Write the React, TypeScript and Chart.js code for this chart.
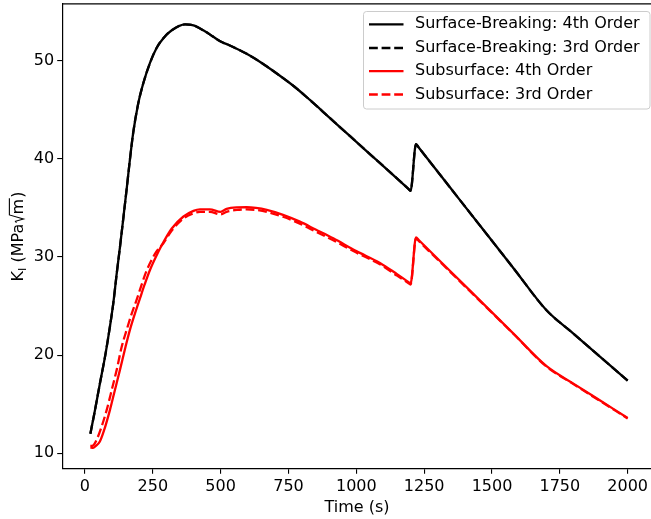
import { useEffect, useRef } from 'react';
import { Chart, registerables } from 'chart.js';

Chart.register(...registerables);

// ---- data ----
const sb4Time = [20, 35, 55, 75, 92, 105, 117, 129, 142, 154, 166, 178, 196, 215, 240, 264, 289, 320, 369, 400, 436, 470, 500, 530, 596, 650, 707, 770, 829, 900, 977, 1050, 1120, 1190, 1200, 1220, 1230, 1345, 1460, 1580, 1700, 1800, 1900, 2000];
const sb4K = [12.0, 14.1, 17.1, 20.0, 22.9, 25.4, 28.3, 31.0, 34.1, 37.0, 40.0, 42.7, 45.6, 47.7, 49.8, 51.3, 52.3, 53.1, 53.7, 53.6, 53.1, 52.5, 51.95, 51.6, 50.7, 49.8, 48.7, 47.4, 46.0, 44.23, 42.31, 40.49, 38.75, 37.0, 36.75, 41.5, 41.15, 37.1, 33.05, 28.83, 24.6, 22.2, 19.8, 17.4];

const sb3Time = [20, 35, 55, 75, 92, 105, 117, 129, 142, 154, 166, 178, 196, 215, 240, 264, 289, 320, 369, 400, 436, 470, 500, 530, 596, 650, 707, 770, 829, 900, 977, 1050, 1120, 1190, 1200, 1220, 1230, 1345, 1460, 1580, 1700, 1800, 1900, 2000];
const sb3K = [12.0, 14.1, 17.1, 20.0, 22.9, 25.4, 28.3, 31.0, 34.1, 37.0, 40.0, 42.7, 45.6, 47.7, 49.8, 51.3, 52.3, 53.1, 53.7, 53.6, 53.1, 52.5, 51.95, 51.6, 50.7, 49.8, 48.7, 47.4, 46.0, 44.23, 42.31, 40.49, 38.75, 37.0, 36.75, 41.5, 41.15, 37.1, 33.05, 28.83, 24.6, 22.2, 19.8, 17.4];

const sub4Time = [20, 30, 40, 55, 70, 92, 110, 129, 150, 166, 185, 203, 220, 240, 270, 289, 320, 362, 400, 424, 460, 500, 522, 560, 596, 630, 670, 730, 792, 850, 915, 1000, 1087, 1150, 1190, 1200, 1220, 1230, 1340, 1460, 1580, 1700, 1800, 1900, 2000];
const sub4K = [10.6, 10.55, 10.75, 11.2, 12.3, 14.4, 16.4, 18.5, 20.9, 22.6, 24.3, 25.8, 27.2, 28.7, 30.5, 31.5, 32.9, 34.1, 34.7, 34.85, 34.85, 34.6, 34.9, 35.05, 35.07, 35.0, 34.8, 34.3, 33.6, 32.8, 31.9, 30.6, 29.4, 28.25, 27.49, 27.3, 32.0, 31.73, 28.73, 25.45, 22.17, 18.9, 17.1, 15.35, 13.6];

const sub3Time = [20, 30, 45, 60, 80, 100, 117, 135, 154, 172, 190, 208, 227, 262, 289, 320, 362, 400, 424, 460, 500, 522, 560, 596, 630, 670, 730, 792, 850, 915, 1000, 1087, 1150, 1190, 1200, 1220, 1230, 1340, 1460, 1580, 1700, 1800, 1900, 2000];
const sub3K = [10.75, 10.8, 11.5, 12.6, 14.4, 16.6, 18.5, 20.8, 22.6, 24.2, 25.6, 27.1, 28.6, 30.5, 31.4, 32.7, 33.9, 34.45, 34.6, 34.6, 34.35, 34.6, 34.8, 34.85, 34.8, 34.6, 34.1, 33.4, 32.6, 31.7, 30.45, 29.25, 28.1, 27.38, 27.2, 31.9, 31.63, 28.65, 25.4, 22.15, 18.85, 17.05, 15.3, 13.55];

const xTicks = [0, 250, 500, 750, 1000, 1250, 1500, 1750, 2000];
const yTicks = [10, 20, 30, 40, 50];

const seriesLabels = [
  'Surface-Breaking: 4th Order',
  'Surface-Breaking: 3rd Order',
  'Subsurface: 4th Order',
  'Subsurface: 3rd Order',
];
const seriesColors = ['#000000', '#000000', '#ff0000', '#ff0000'];
const seriesDashed = [false, true, false, true];

const xTitle = 'Time (s)';

const FONT = 'DejaVu Sans';
const FS = 16;
const DASH = [8.8, 3.8];

const toPts = (t: number[], k: number[]) => t.map((v, i) => ({ x: v, y: k[i] }));

const decorPlugin = {
  id: 'decor',
  afterDraw(chart: any) {
    const ctx = chart.ctx as CanvasRenderingContext2D;
    const a = chart.chartArea;
    ctx.save();
    // top spine
    ctx.strokeStyle = '#000';
    ctx.lineWidth = 1.2;
    ctx.beginPath();
    ctx.moveTo(a.left, a.top + 0.5);
    ctx.lineTo(a.right + 2, a.top + 0.5);
    ctx.stroke();

    // legend
    const bx = 363.5, by = 11.5, bw = 286.5, bh = 97.5, r = 3;
    ctx.beginPath();
    ctx.moveTo(bx + r, by);
    ctx.lineTo(bx + bw - r, by);
    ctx.quadraticCurveTo(bx + bw, by, bx + bw, by + r);
    ctx.lineTo(bx + bw, by + bh - r);
    ctx.quadraticCurveTo(bx + bw, by + bh, bx + bw - r, by + bh);
    ctx.lineTo(bx + r, by + bh);
    ctx.quadraticCurveTo(bx, by + bh, bx, by + bh - r);
    ctx.lineTo(bx, by + r);
    ctx.quadraticCurveTo(bx, by, bx + r, by);
    ctx.closePath();
    ctx.fillStyle = 'rgba(255,255,255,0.8)';
    ctx.fill();
    ctx.strokeStyle = '#cccccc';
    ctx.lineWidth = 1;
    ctx.stroke();

    const rows = [24.3, 48.0, 71.2, 94.5];
    ctx.font = `${FS}px "${FONT}"`;
    ctx.textBaseline = 'middle';
    ctx.textAlign = 'left';
    seriesLabels.forEach((lab, i) => {
      const y = rows[i];
      ctx.strokeStyle = seriesColors[i];
      ctx.lineWidth = 2.3;
      ctx.setLineDash(seriesDashed[i] ? DASH : []);
      ctx.beginPath();
      ctx.moveTo(369, y);
      ctx.lineTo(403.5, y);
      ctx.stroke();
      ctx.setLineDash([]);
      ctx.fillStyle = '#000';
      ctx.fillText(lab, 415, y);
    });

    // x title
    ctx.font = `${FS}px "${FONT}"`;
    ctx.textAlign = 'center';
    ctx.textBaseline = 'middle';
    ctx.fillStyle = '#000';
    ctx.fillText(xTitle, 357, 508);

    // y title: K_I (MPa sqrt(m))
    ctx.translate(17, 236.5);
    ctx.rotate(-Math.PI / 2);
    const sub = FS * 0.7;
    ctx.textAlign = 'left';
    ctx.textBaseline = 'alphabetic';
    ctx.font = `${FS}px "${FONT}"`;
    const wK = ctx.measureText('K').width;
    const wOpen = ctx.measureText(' (MPa').width;
    const wM = ctx.measureText('m').width;
    const wClose = ctx.measureText(')').width;
    ctx.font = `${sub}px "${FONT}"`;
    const wI = ctx.measureText('I').width;
    const wRad = FS * 0.58;
    const total = wK + wI + wOpen + wRad + wM + wClose + 1;
    let x = -total / 2;
    const base = 5.5;
    ctx.font = `${FS}px "${FONT}"`;
    ctx.fillText('K', x, base);
    x += wK;
    ctx.font = `${sub}px "${FONT}"`;
    ctx.fillText('I', x, base + 3);
    x += wI;
    ctx.font = `${FS}px "${FONT}"`;
    ctx.fillText(' (MPa', x, base);
    x += wOpen;
    // radical
    const top = base - FS * 0.82;
    ctx.strokeStyle = '#000';
    ctx.lineWidth = 1.1;
    ctx.beginPath();
    ctx.moveTo(x + 1, base - FS * 0.38);
    ctx.lineTo(x + 2.5, base - FS * 0.44);
    ctx.lineTo(x + FS * 0.3, base + 1);
    ctx.lineTo(x + wRad - 0.5, top);
    ctx.lineTo(x + wRad + wM + 0.5, top);
    ctx.stroke();
    x += wRad;
    ctx.fillText('m', x, base);
    x += wM + 1;
    ctx.fillText(')', x, base);

    ctx.restore();
  },
};

const zeroPad = (s: any) => {
  s.paddingTop = 0;
  s.paddingBottom = 0;
  s.paddingLeft = 0;
  s.paddingRight = 0;
};

export default function App() {
  const ref = useRef<HTMLCanvasElement | null>(null);
  useEffect(() => {
    if (!ref.current) return;
    const datasets = [
      { data: toPts(sb4Time, sb4K), order: 4 },
      { data: toPts(sb3Time, sb3K), order: 3 },
      { data: toPts(sub4Time, sub4K), order: 2 },
      { data: toPts(sub3Time, sub3K), order: 1 },
    ].map((d, i) => ({
      label: seriesLabels[i],
      data: d.data,
      order: d.order,
      borderColor: seriesColors[i],
      backgroundColor: seriesColors[i],
      borderWidth: 2.3,
      borderDash: seriesDashed[i] ? DASH : [],
      pointRadius: 0,
      fill: false,
      cubicInterpolationMode: 'monotone' as const,
    }));
    const tickFont = { family: FONT, size: FS };
    const chart = new Chart(ref.current, {
      type: 'line',
      data: { datasets },
      plugins: [decorPlugin],
      options: {
        animation: false,
        responsive: false,
        devicePixelRatio: 1,
        layout: { padding: { top: 3.3, right: 0, left: 0, bottom: 0 } },
        plugins: { legend: { display: false }, tooltip: { enabled: false } },
        scales: {
          x: {
            type: 'linear',
            min: -82,
            max: 2086,
            afterBuildTicks: (s: any) => {
              s.ticks = xTicks.map((v) => ({ value: v }));
            },
            afterFit: (s: any) => {
              s.height = 50.7;
              zeroPad(s);
            },
            grid: {
              display: true,
              drawOnChartArea: false,
              drawTicks: true,
              tickLength: 5.5,
              color: '#000',
              lineWidth: 1.1,
            },
            border: { display: true, color: '#000', width: 1.2 },
            ticks: {
              color: '#000',
              font: tickFont,
              padding: 3,
              maxRotation: 0,
              autoSkip: false,
              callback: (v: any) => String(v),
            },
          },
          y: {
            type: 'linear',
            min: 8.47,
            max: 55.85,
            afterBuildTicks: (s: any) => {
              s.ticks = yTicks.map((v) => ({ value: v }));
            },
            afterFit: (s: any) => {
              s.width = 62.7;
              zeroPad(s);
            },
            grid: {
              display: true,
              drawOnChartArea: false,
              drawTicks: true,
              tickLength: 5.5,
              color: '#000',
              lineWidth: 1.1,
            },
            border: { display: true, color: '#000', width: 1.2 },
            ticks: {
              color: '#000',
              font: tickFont,
              padding: 3,
              autoSkip: false,
              callback: (v: any) => String(v),
            },
          },
        },
      },
    });
    return () => chart.destroy();
  }, []);
  return (
    <div style={{ position: 'absolute', left: 0, top: 0, width: 651, height: 519, background: '#fff' }}>
      <canvas ref={ref} width={651} height={519} style={{ display: 'block' }} />
    </div>
  );
}
